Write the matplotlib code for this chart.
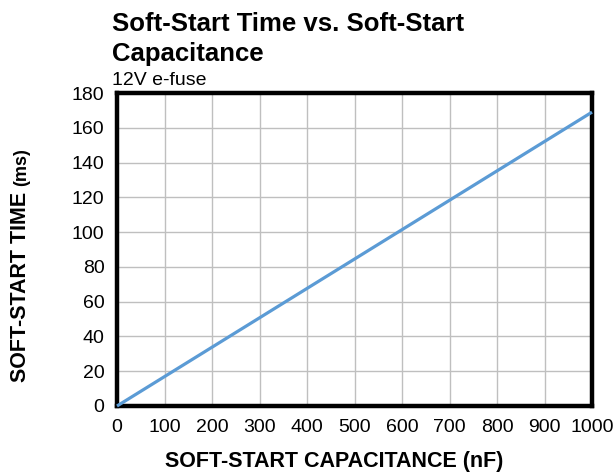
import matplotlib
matplotlib.use("Agg")
import matplotlib.pyplot as plt

plt.rcParams['font.family'] = ['Liberation Sans', 'DejaVu Sans']

capacitance_nF = [0, 1000]
time_ms = [0, 169]
x_ticks = [0, 100, 200, 300, 400, 500, 600, 700, 800, 900, 1000]
y_ticks = [0, 20, 40, 60, 80, 100, 120, 140, 160, 180]

W, H = 616, 472
fig = plt.figure(figsize=(W / 100, H / 100), dpi=100)
ax = fig.add_axes([117 / W, 1 - 406 / H, (592 - 117) / W, (406 - 93) / H])

ax.plot(capacitance_nF, time_ms, color='#5B9BD5', linewidth=2.3, solid_capstyle='butt', zorder=3, clip_on=False)
ax.set_xlim(0, 1000)
ax.set_ylim(0, 180)
ax.set_xticks(x_ticks)
ax.set_yticks(y_ticks)
ax.tick_params(axis='both', length=0, labelsize=14, pad=9)
ax.grid(True, color='#BFBFBF', linewidth=1.0)
ax.set_axisbelow(True)
for s in ax.spines.values():
    s.set_linewidth(3.2)
    s.set_color('black')

# x label
fig.text(165 / W, 1 - 467 / H, 'SOFT-START CAPACITANCE (nF)', fontsize=15.5, fontweight='bold',
         ha='left', va='baseline')
# y label (bold caps + units in a smaller size)
fig.text(26 / W, 1 - 382 / H, 'SOFT-START TIME', fontsize=15.5, fontweight='bold',
         ha='left', va='baseline', rotation=90, rotation_mode='anchor')
fig.text(26 / W, 1 - 186 / H, '(ms)', fontsize=13, fontweight='bold',
         ha='left', va='baseline', rotation=90, rotation_mode='anchor')

# title and subtitle
fig.text(112 / W, 1 - 31 / H, 'Soft-Start Time vs. Soft-Start', fontsize=18.5, fontweight='bold',
         ha='left', va='baseline')
fig.text(112 / W, 1 - 61 / H, 'Capacitance', fontsize=18.5, fontweight='bold',
         ha='left', va='baseline')
fig.text(112 / W, 1 - 85 / H, '12V e-fuse', fontsize=14, ha='left', va='baseline')

fig.savefig('out.png', dpi=100)
